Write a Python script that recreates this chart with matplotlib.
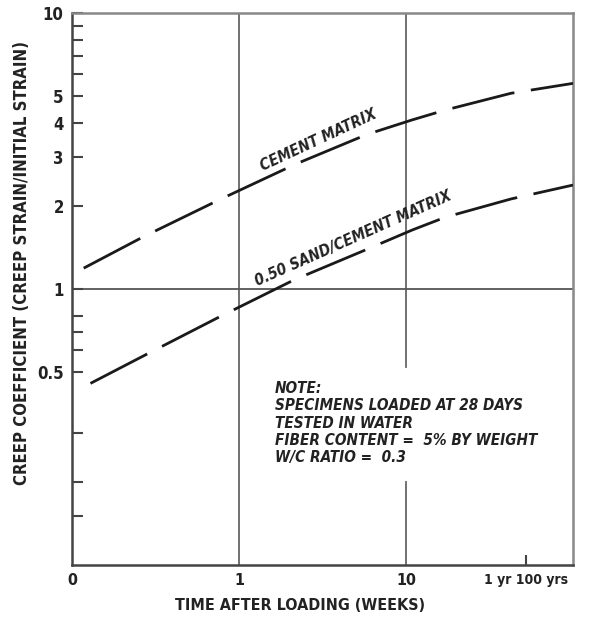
import matplotlib.pyplot as plt
from matplotlib.ticker import FixedLocator, NullFormatter, NullLocator

# Data (weeks after loading vs creep coefficient)
cement_weeks = [0.1175, 0.268, 0.756, 2.17, 5.83, 10.9, 17.2, 42.6, 100]
cement_creep = [1.19, 1.547, 2.10, 2.83, 3.63, 4.10, 4.45, 5.12, 5.56]

sand_weeks = [0.129, 0.275, 0.756, 2.13, 5.70, 10.9, 17.2, 42.6, 100]
sand_creep = [0.455, 0.577, 0.790, 1.078, 1.384, 1.636, 1.82, 2.12, 2.38]

x_tick_vals = [0.1, 1, 10, 52]
x_tick_labels = ["0", "1", "10", "1 yr 100 yrs"]
y_major_vals = [0.5, 1, 2, 3, 4, 5, 10]
y_major_labels = ["0.5", "1", "2", "3", "4", "5", "10"]
y_minor_vals = [0.15, 0.2, 0.3, 0.6, 0.7, 0.8, 6, 7, 8, 9]

note_lines = ["NOTE:", "SPECIMENS LOADED AT 28 DAYS", "TESTED IN WATER",
              "FIBER CONTENT =  5% BY WEIGHT", "W/C RATIO =  0.3"]

plt.rcParams['font.family'] = ["DejaVu Sans"]
plt.rcParams['font.stretch'] = "condensed"
INK = "#222222"

fig = plt.figure(figsize=(5.99, 6.18), dpi=100)
ax = fig.add_axes([72 / 599, 1 - 565 / 618, 501 / 599, 552 / 618])
ax.set_xscale("log")
ax.set_yscale("log")
ax.set_xlim(0.1, 100)
ax.set_ylim(0.1, 10)

# grid lines (the one at 10 weeks breaks around the note)
ax.axvline(1, color="#666666", lw=1.3, zorder=1)
ax.axvline(10, ymin=0.359, ymax=1, color="#666666", lw=1.3, zorder=1)
ax.axvline(10, ymin=0, ymax=0.150, color="#666666", lw=1.3, zorder=1)
ax.axhline(1, color="#555555", lw=1.3, zorder=1)

dash = (0, (23, 6))
ax.plot(cement_weeks, cement_creep, color="#1a1a1a", lw=2.0, linestyle=dash, zorder=3)
ax.plot(sand_weeks, sand_creep, color="#1a1a1a", lw=2.0, linestyle=dash, zorder=3)

# spines
for s in ["left", "bottom"]:
    ax.spines[s].set_color("#444444")
    ax.spines[s].set_linewidth(1.8)
for s in ["top", "right"]:
    ax.spines[s].set_color("#888888")
    ax.spines[s].set_linewidth(1.8)

# ticks
ax.xaxis.set_major_locator(FixedLocator(x_tick_vals))
ax.xaxis.set_ticklabels(x_tick_labels)
ax.xaxis.set_minor_locator(NullLocator())
ax.yaxis.set_major_locator(FixedLocator(y_major_vals))
ax.yaxis.set_ticklabels(y_major_labels)
ax.yaxis.set_minor_locator(FixedLocator(y_minor_vals))
ax.yaxis.set_minor_formatter(NullFormatter())
ax.tick_params(axis="y", which="both", direction="in", length=8, width=1.5,
               color="#444444", labelsize=12, pad=6, labelcolor=INK)
ax.tick_params(axis="x", which="both", direction="in", length=7, width=1.5,
               color="#444444", labelsize=11.5, pad=6, labelcolor=INK)
for t in ax.xaxis.get_major_ticks()[:3]:
    t.tick1line.set_visible(False)
for lab in ax.get_xticklabels() + ax.get_yticklabels():
    lab.set_fontweight("bold")
ax.get_xticklabels()[3].set_fontsize(10)

fig.text(300 / 599, 1 - 606 / 618, "TIME AFTER LOADING (WEEKS)", ha="center", va="center",
         fontsize=11.5, fontweight="bold", color=INK)
fig.text(22 / 599, 1 - 263 / 618, "CREEP COEFFICIENT (CREEP STRAIN/INITIAL STRAIN)",
         ha="center", va="center", rotation=90, fontsize=12, fontweight="bold", color=INK)

# curve labels
ax.text(2.99, 3.45, "CEMENT MATRIX", rotation=25, ha="center", va="center",
        fontsize=11, fontstyle="italic", fontweight="bold", color=INK)
ax.text(4.83, 1.52, "0.50 SAND/CEMENT MATRIX", rotation=24, ha="center", va="center",
        fontsize=11, fontstyle="italic", fontweight="bold", color=INK)

# note
ax.text((275 - 72) / 501, (565 - 423) / 552, "\n".join(note_lines),
        transform=ax.transAxes, ha="left", va="center", fontsize=11,
        fontstyle="italic", fontweight="bold", color=INK, linespacing=1.2)

fig.savefig("out.png", dpi=100, facecolor="white")
